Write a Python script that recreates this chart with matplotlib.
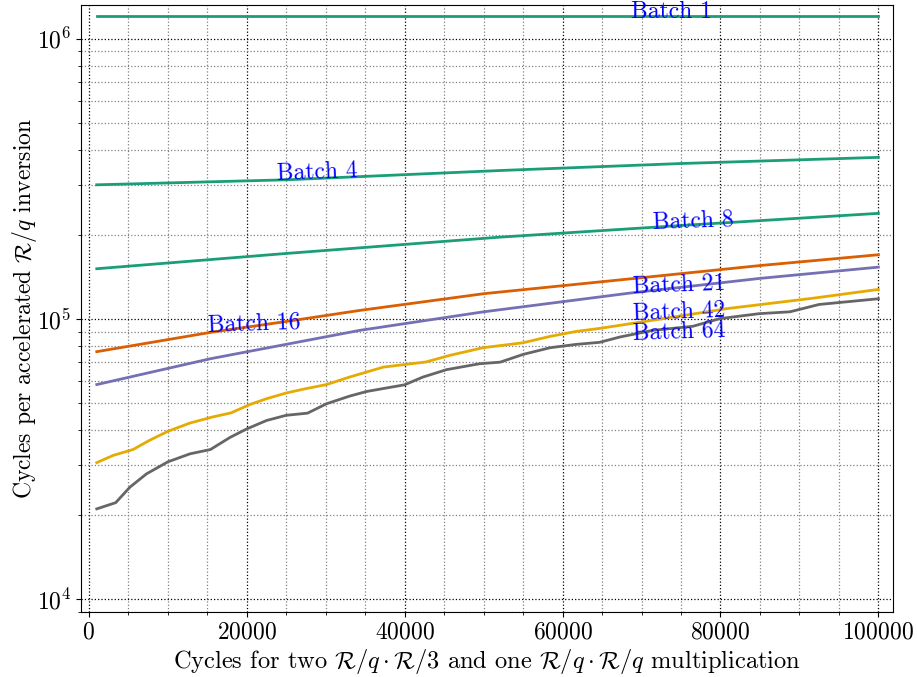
import numpy as np
import matplotlib
matplotlib.use('Agg')
from matplotlib import pyplot as plt
from matplotlib.ticker import MultipleLocator, LogLocator, NullFormatter

plt.rcParams['font.family'] = 'serif'
plt.rcParams['font.serif'] = ['cmr10', 'DejaVu Serif']
plt.rcParams['mathtext.fontset'] = 'cm'
plt.rcParams['axes.formatter.use_mathtext'] = True
plt.rcParams['font.size'] = 17

# values
x_b1 = [1000, 100000]
y_b1 = [1.2e6, 1.2e6]

x_b4 = [1000, 25000, 52000, 75000, 100000]
y_b4 = [300900, 313500, 338300, 358400, 377000]

x_b8 = [1000, 25000, 52000, 75000, 100000]
y_b8 = [151000, 171200, 195700, 215400, 238000]

x_b16 = [1000, 15400, 34300, 50000, 68500, 85000, 100000]
y_b16 = [58300, 72100, 91000, 106000, 123600, 139500, 153000]

x_b21 = [1000, 15700, 25000, 34300, 50000, 68500, 85000, 100000]
y_b21 = [76400, 89800, 97900, 107200, 123000, 138900, 155000, 169400]

x_b42 = [1000, 3100, 5600, 7700, 10000, 12800, 15700, 18000, 20400, 22500, 25000,
         27500, 30100, 33000, 37300, 42700, 45700, 49900, 55000, 58400, 61700,
         64700, 67300, 78400, 80800, 91800, 100000]
y_b42 = [30700, 32600, 34200, 36900, 39700, 42500, 44700, 46200, 49500, 51900, 54400,
         56400, 58300, 62000, 67300, 70200, 74100, 78900, 82200, 86600, 90200,
         92500, 94900, 106100, 108800, 118600, 127400]

x_b64 = [1000, 3400, 5200, 7300, 10000, 12800, 15400, 17900, 20000, 22500, 25000,
         27700, 30100, 33000, 35200, 40000, 42300, 45300, 49500, 52100, 55000,
         58400, 61700, 64700, 67200, 71400, 76500, 79900, 84900, 88800, 92500, 100000]
y_b64 = [21000, 22100, 25100, 28000, 30900, 33000, 34200, 37800, 40500, 43400, 45300,
         46100, 49800, 53000, 55100, 58200, 62000, 65900, 69200, 70100, 74700,
         78900, 81100, 82500, 86100, 91000, 94100, 100200, 104400, 106000, 112600, 118000]

series = [
    ('Batch 1', x_b1, y_b1, '#1b9e77'),
    ('Batch 4', x_b4, y_b4, '#1b9e77'),
    ('Batch 8', x_b8, y_b8, '#1b9e77'),
    ('Batch 16', x_b16, y_b16, '#7570b3'),
    ('Batch 21', x_b21, y_b21, '#d95f02'),
    ('Batch 42', x_b42, y_b42, '#e6ab02'),
    ('Batch 64', x_b64, y_b64, '#666666'),
]

# label anchor (x, y) and rotation
labels = {
    'Batch 1': (73800, 1.245e6, 0),
    'Batch 4': (28900, 3.33e5, 2),
    'Batch 8': (76600, 2.23e5, 2),
    'Batch 16': (20900, 9.64e4, 2),
    'Batch 21': (74800, 1.317e5, 2),
    'Batch 42': (74800, 1.055e5, 2),
    'Batch 64': (74800, 8.96e4, 2),
}

fig = plt.figure(figsize=(9.17, 6.77), dpi=100)
ax = fig.add_axes([0.0883, 0.096, 0.8855, 0.8966])

for name, xs, ys, c in series:
    ax.plot(xs, ys, color=c, linewidth=2.0)

for name, (lx, ly, rot) in labels.items():
    ax.text(lx, ly, name, color='blue', ha='center', va='center', rotation=rot,
            rotation_mode='anchor')

ax.set_yscale('log')
ax.set_xlim(-1000, 101850)
ax.set_ylim(9.0e3, 1.318e6)

ax.xaxis.set_major_locator(MultipleLocator(20000))
ax.xaxis.set_minor_locator(MultipleLocator(5000))
ax.yaxis.set_major_locator(LogLocator(base=10))
ax.yaxis.set_minor_locator(LogLocator(base=10, subs=np.arange(2, 10)))
ax.yaxis.set_minor_formatter(NullFormatter())

ax.grid(which='major', color='black', linestyle=':', linewidth=0.9)
ax.grid(which='minor', color='gray', linestyle=':', linewidth=0.9)
ax.tick_params(which='both', direction='out')

ax.set_xlabel(r'Cycles for two $\mathcal{R}/q\cdot\mathcal{R}/3$ and one $\mathcal{R}/q\cdot\mathcal{R}/q$ multiplication',
              fontsize=17.6, labelpad=2)
ax.set_ylabel(r'Cycles per accelerated $\mathcal{R}/q$ inversion', labelpad=-1.5)

fig.savefig('out.png', dpi=100)
